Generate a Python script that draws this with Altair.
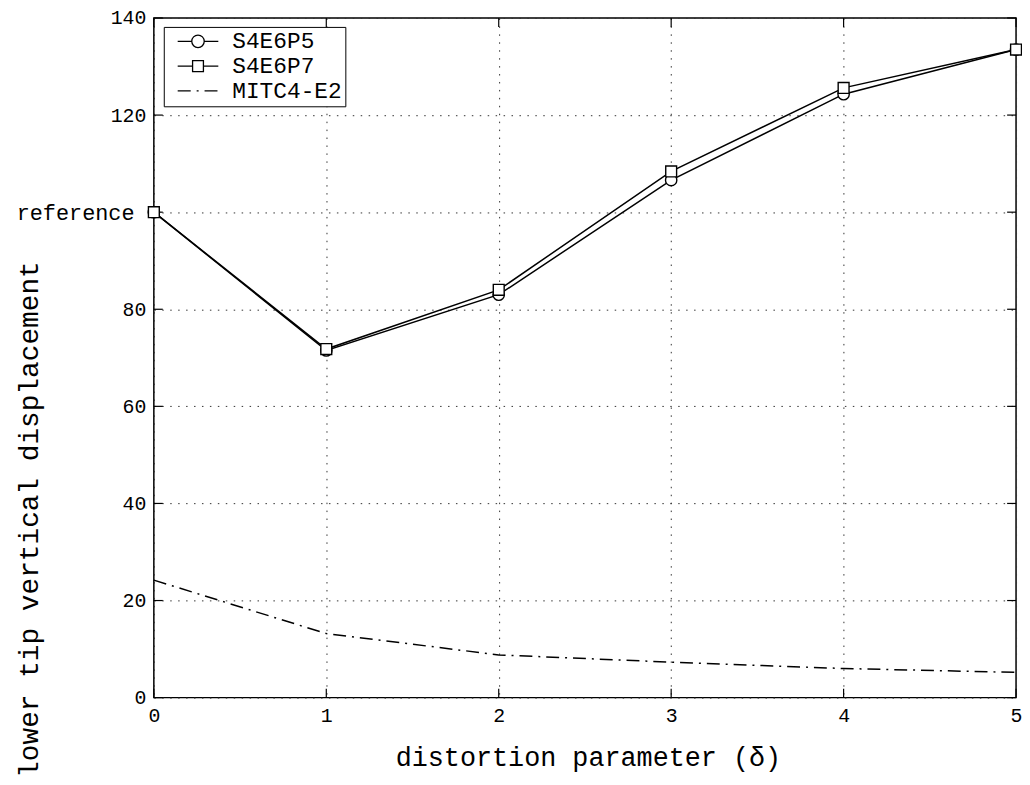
import altair as alt
import pandas as pd

x_vals = [0, 1, 2, 3, 4, 5]
s4e6p5 = [100.0, 71.5, 83.0, 106.6, 124.3, 133.5]
s4e6p7 = [100.0, 71.8, 84.0, 108.4, 125.6, 133.5]
mitc4 = [24.2, 13.2, 8.8, 7.3, 6.0, 5.2]
series_names = ["S4E6P5", "S4E6P7", "MITC4-E2"]
y_ticks = [0, 20, 40, 60, 80, 100, 120, 140]
x_ticks = [0, 1, 2, 3, 4, 5]

W, H = 869, 685
TL = 9
MONO = "Liberation Mono"

rows = []
for name, vals in zip(series_names, [s4e6p5, s4e6p7, mitc4]):
    for xv, yv in zip(x_vals, vals):
        rows.append({"x": xv, "y": yv, "series": name})
df = pd.DataFrame(rows)
main = df[df.series != "MITC4-E2"]
mitc = df[df.series == "MITC4-E2"]

xs = alt.Scale(domain=[0, 5], nice=False)
ys = alt.Scale(domain=[0, 140], nice=False)

circle_path = "M-1.95,0H-0.6M0.6,0H1.95M0.6,0A0.6,0.6,0,1,1,-0.6,0A0.6,0.6,0,1,1,0.6,0"
square_path = "M-1.95,0H-0.52M0.52,0H1.95M-0.52,-0.52H0.52V0.52H-0.52Z"
dash_path = "M-1.95,0H-0.7M-0.13,0H0.06M0.63,0H1.87"

shape = alt.Shape(
    "series:N",
    scale=alt.Scale(domain=series_names, range=[circle_path, square_path, dash_path]),
    legend=alt.Legend(
        title=None,
        orient="none",
        legendX=10,
        legendY=9,
        padding=3,
        symbolOffset=20,
        symbolSize=441,
        symbolOpacity=1,
        symbolFillColor="white",
        symbolStrokeColor="black",
        symbolStrokeWidth=1.3,
        labelOffset=23,
        rowPadding=1,
        labelFont=MONO,
        labelFontSize=23,
        labelColor="black",
        strokeColor="black",
        fillColor="white",
    ),
)

xaxis = alt.Axis(
    values=x_ticks,
    format="d",
    title="distortion parameter (\u03b4)",
    titleFont=MONO,
    titleFontSize=27,
    titleFontWeight="normal",
    titleColor="black",
    titleX=W / 2 + 3,
    titleY=60,
    titleBaseline="middle",
    labelFont=MONO,
    labelFontSize=20,
    labelColor="black",
    labelPadding=8,
    labelFlush=False,
    ticks=False,
    domain=False,
    grid=True,
    gridColor="#333333",
    gridDash=[1.5, 6.5],
    gridWidth=1,
)

yaxis = alt.Axis(
    values=y_ticks,
    title="lower tip vertical displacement",
    titleFont=MONO,
    titleFontSize=28,
    titleFontWeight="normal",
    titleColor="black",
    titleX=-125,
    titleY=505,
    titleAngle=-90,
    titleAlign="center",
    titleBaseline="middle",
    labelExpr="datum.value == 100 ? 'reference' : datum.label",
    labelFont=MONO,
    labelFontSize={"condition": {"test": "datum.value == 100", "value": 22}, "value": 20},
    labelPadding={"condition": {"test": "datum.value == 100", "value": 20}, "value": 8},
    labelColor="black",
    labelFlush=False,
    ticks=False,
    domain=False,
    grid=True,
    gridColor="#333333",
    gridDash=[1.5, 6.5],
    gridWidth=1,
)

base_x = alt.X("x:Q", scale=xs, axis=xaxis)
base_y = alt.Y("y:Q", scale=ys, axis=yaxis)

lines = alt.Chart(main).mark_line(strokeWidth=1.5, color="black").encode(
    x=base_x, y=base_y, detail="series:N"
)
mitc_line = alt.Chart(mitc).mark_line(strokeWidth=1.5, color="black", strokeDash=[13, 6, 2, 6]).encode(
    x=alt.X("x:Q", scale=xs), y=alt.Y("y:Q", scale=ys)
)
pts5 = alt.Chart(df[df.series == "S4E6P5"]).mark_point(
    shape="circle", size=130, filled=True, fill="white", stroke="black", strokeWidth=1.4, opacity=1
).encode(x=alt.X("x:Q", scale=xs), y=alt.Y("y:Q", scale=ys))
pts7 = alt.Chart(df[df.series == "S4E6P7"]).mark_point(
    shape="square", size=120, filled=True, fill="white", stroke="black", strokeWidth=1.4, opacity=1
).encode(x=alt.X("x:Q", scale=xs), y=alt.Y("y:Q", scale=ys))

legend_layer = alt.Chart(df).mark_point(
    size=441, filled=False, color="black", strokeWidth=1.3
).encode(
    x=alt.X("x:Q", scale=xs), y=alt.Y("y:Q", scale=ys), shape=shape, opacity=alt.value(0)
)

ytick_df = pd.DataFrame({"y": y_ticks})
xtick_df = pd.DataFrame({"x": x_ticks})
yt_left = alt.Chart(ytick_df).mark_rule(color="black", strokeWidth=1.2).encode(
    y=alt.Y("y:Q", scale=ys), x=alt.value(0), x2=alt.value(TL)
)
yt_right = alt.Chart(ytick_df).mark_rule(color="black", strokeWidth=1.2).encode(
    y=alt.Y("y:Q", scale=ys), x=alt.value(W - TL), x2=alt.value(W)
)
xt_bot = alt.Chart(xtick_df).mark_rule(color="black", strokeWidth=1.2).encode(
    x=alt.X("x:Q", scale=xs), y=alt.value(H - TL), y2=alt.value(H)
)
xt_top = alt.Chart(xtick_df).mark_rule(color="black", strokeWidth=1.2).encode(
    x=alt.X("x:Q", scale=xs), y=alt.value(0), y2=alt.value(TL)
)

chart = alt.layer(
    yt_left, yt_right, xt_bot, xt_top, mitc_line, lines, pts5, pts7, legend_layer
).properties(
    width=W,
    height=H,
    autosize=alt.AutoSizeParams(type="none"),
    padding={"left": 147, "top": 7, "right": 6, "bottom": 85},
    background="white",
).configure_view(
    stroke="black", strokeWidth=1.5
)

chart.save("out.html", embed_options={"renderer": "svg", "actions": False})
